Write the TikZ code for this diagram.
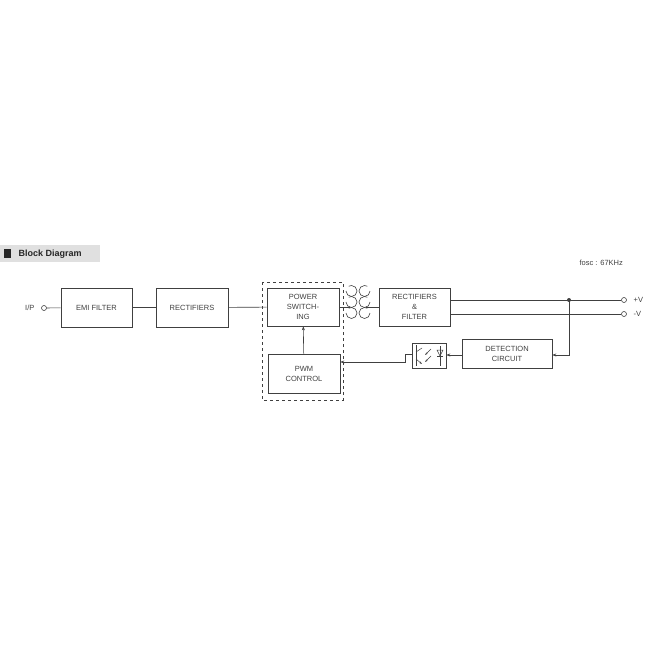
\documentclass[tikz,border=0pt]{standalone}
\usepackage{fontspec}
\setmainfont{Liberation Sans}
\usetikzlibrary{arrows.meta}
\begin{document}
\begin{tikzpicture}[x=1pt,y=-1pt,line width=0.6pt,color=black!75,
  blk/.style={draw,rectangle,align=center,font=\fontsize{7.5}{10}\selectfont,inner sep=0pt},
  term/.style={draw,circle,minimum size=5pt,inner sep=0pt,fill=white},
  arr/.style={-{Stealth[length=4pt,width=3pt]}}]
\useasboundingbox (0,0) rectangle (650,650);
% header
\fill[black!12] (0,245) rectangle (100,262);
\fill[black!85] (4,249) rectangle (11,258);
\node[anchor=west,font=\bfseries\fontsize{9}{10}\selectfont,text=black!85] (hdr) at (15,254) {Block Diagram};
\node[anchor=west,font=\fontsize{7.5}{9}\selectfont] (fosc) at (576,263) {fosc : 67KHz};
% blocks
\node[blk,minimum width=71pt,minimum height=39pt] (emi) at (96.5,307.5) {EMI FILTER};
\node[blk,minimum width=72pt,minimum height=39pt] (rect) at (192,307.5) {RECTIFIERS};
\node[blk,minimum width=72pt,minimum height=38pt] (psw) at (303,307) {POWER\\SWITCH-\\ING};
\node[blk,minimum width=72pt,minimum height=39pt] (pwm) at (304,373.5) {PWM\\CONTROL};
\node[blk,minimum width=71pt,minimum height=38pt] (rf) at (414.5,307) {RECTIFIERS\\\&\\FILTER};
\node[blk,minimum width=90pt,minimum height=29pt] (det) at (507,353.5) {DETECTION\\CIRCUIT};
\node[draw,minimum width=34pt,minimum height=25pt,inner sep=0pt] (opto) at (429,355.5) {};
\draw[dashed,line width=0.5pt] (262,282) rectangle (343,400);
% terminals
\node[term] (ip) at (44,308) {};
\node[anchor=east,font=\fontsize{7.5}{9}\selectfont] (iplab) at (38,308) {I/P};
\node[term] (pv) at (624,300) {};
\node[term] (mv) at (624,314) {};
\node[anchor=west,font=\fontsize{7.5}{9}\selectfont] (pvl) at (630,300) {+V};
\node[anchor=west,font=\fontsize{7.5}{9}\selectfont] (mvl) at (630,314) {-V};
\coordinate (dot) at (569,300);
% connectors
\draw (ip) -- (emi);
\draw (emi) -- (rect);
\draw (rect) -- (psw);
\draw[arr] (pwm) -- (psw);
\draw (rf.east |- pv) -- (pv);
\draw (rf.east |- mv) -- (mv);
\fill (dot) circle (2pt);
\draw[arr] (dot) |- (det.east |- 0,355);
\draw[arr] (det.west |- 0,355) -- (opto.east |- 0,355);
\draw[arr] (opto.west |- 0,354) -- (405,354) |- (pwm.east |- 0,362);
% coils
\coordinate (pc) at (350,307);
\coordinate (sc) at (366,307);
\draw (psw.east) -- (pc);
\draw (sc) -- (rf.west);
\foreach \yy in {291,302,313}{
  \draw (346,\yy) arc[start angle=180,end angle=-120,radius=5.5];
  \draw (370,\yy) arc[start angle=0,end angle=300,radius=5.5];
}
% opto symbol
\draw[line width=0.5pt] (416,345) -- (416,366);
\draw[line width=0.5pt] (416,352) -- (422,348);
\draw[line width=0.5pt,-{Stealth[length=3pt,width=2pt]}] (416,359) -- (422,364);
\draw[line width=0.5pt,-{Stealth[length=3pt,width=2pt]}] (431,349) -- (425,355);
\draw[line width=0.5pt,-{Stealth[length=3pt,width=2pt]}] (431,356) -- (425,362);
\draw[line width=0.5pt] (437,350) -- (443,350) -- (440,356) -- cycle;
\draw[line width=0.5pt] (437,356) -- (443,356);
\draw[line width=0.5pt] (440,346) -- (440,366);
\end{tikzpicture}
\end{document}
